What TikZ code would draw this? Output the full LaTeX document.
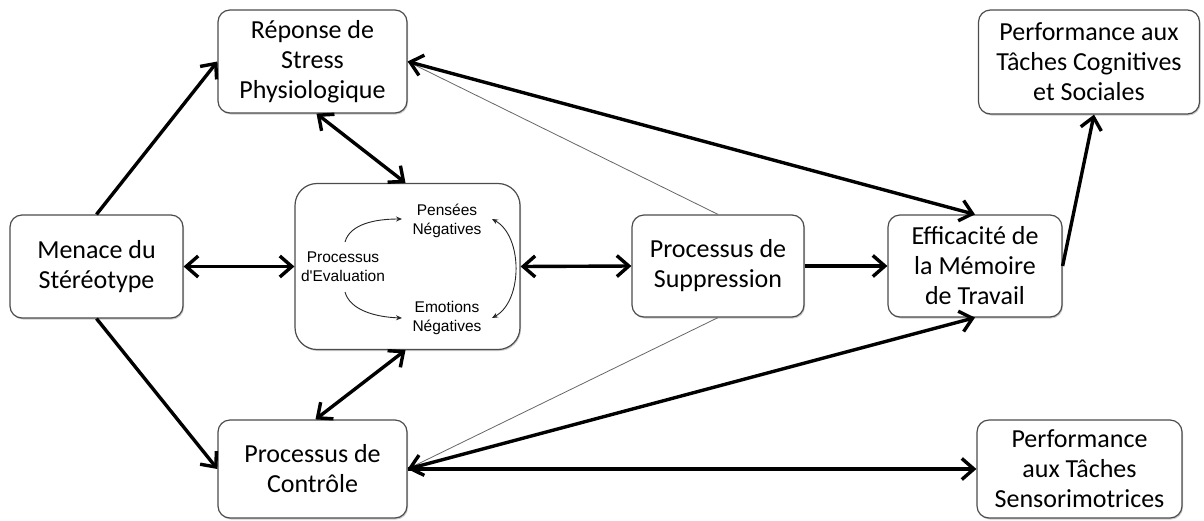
\documentclass[tikz,border=0pt]{standalone}
\usepackage{fontspec}
\setmainfont{Carlito}
\newfontfamily\evalfont{Liberation Sans}
\usetikzlibrary{arrows.meta,shadows}

\begin{document}
\begin{tikzpicture}[x=1pt,y=-1pt,
        box/.style={draw=black!70, line width=1.2pt, fill=white, rounded corners=12pt, align=center,
            font=\fontsize{26}{30}\selectfont, inner sep=0pt,
            drop shadow={shadow xshift=1pt, shadow yshift=-1.5pt, fill=black!40}},
        inner/.style={align=center, font=\evalfont\fontsize{15.5}{19}\selectfont, inner sep=0pt},
        arr/.style={line width=3.4pt, -{Straight Barb[length=12pt,width=21pt]}},
        darr/.style={line width=3.4pt, {Straight Barb[length=12pt,width=21pt]}-{Straight Barb[length=12pt,width=21pt]}},
        thin/.style={line width=0.8pt, black!60},
        small/.style={line width=0.9pt, black!85, -{Stealth[length=6pt,width=5pt]}}]
        \useasboundingbox (0,0) rectangle (1204,520);
        \node[box, minimum width=189pt, minimum height=103pt] (rep) at (312.5,61.5) {Réponse de\\Stress\\Physiologique};
        \node[box, minimum width=173pt, minimum height=103pt] (men) at (96.5,266.5) {Menace du\\Stéréotype};
        \node[box, minimum width=189pt, minimum height=98pt] (ctl) at (312.5,469) {Processus de\\Contrôle};
        \node[box, minimum width=225pt, minimum height=166pt, rounded corners=22pt] (eval) at (407.5,266.5) {};
        \node[box, minimum width=172pt, minimum height=102pt] (sup) at (718,266) {Processus de\\Suppression};
        \node[box, minimum width=174pt, minimum height=102pt] (eff) at (975,266) {Efficacité de\\la Mémoire\\de Travail};
        \node[box, minimum width=221pt, minimum height=104pt] (cog) at (1089,62) {Performance aux\\Tâches Cognitives\\et Sociales};
        \node[box, minimum width=205pt, minimum height=98pt] (sen) at (1079.5,469) {Performance\\aux Tâches\\Sensorimotrices};
        \node[inner] (pev) at (343,267) {Processus\\d'Evaluation};
        \node[inner] (pen) at (447,221) {Pensées\\Négatives};
        \node[inner] (emo) at (447,318) {Emotions\\Négatives};
        \draw[small] (345,242) .. controls (350,224) and (375,219) .. (402,219);
        \draw[small] (345,292) .. controls (350,310) and (375,317) .. (402,318);
        \draw[small, {Stealth[length=6pt,width=5pt]}-{Stealth[length=6pt,width=5pt]}] (492,219) .. controls (523,236) and (523,301) .. (492,318);
        \draw[thin] (rep.east) -- (sup.north);
        \draw[thin] (ctl.east) -- (sup.south);
        \draw[arr] (men.north) -- (rep.west);
        \draw[arr] (men.south) -- (ctl.west);
        \draw[darr] (men.east) -- (eval.west);
        \draw[darr] ([xshift=4pt]rep.south) -- ([xshift=-2pt]eval.north);
        \draw[darr] ([xshift=3pt]ctl.north) -- ([xshift=-2pt]eval.south);
        \draw[darr] (eval.east) -- (sup.west);
        \draw[arr] (sup.east) -- (eff.west);
        \draw[darr] (rep.east) -- (eff.north);
        \draw[darr] (ctl.east) -- (eff.south);
        \draw[arr] (ctl.east) -- (sen.west);
        \draw[arr] (eff.east) -- ([xshift=5pt]cog.south);
\end{tikzpicture}
\end{document}
